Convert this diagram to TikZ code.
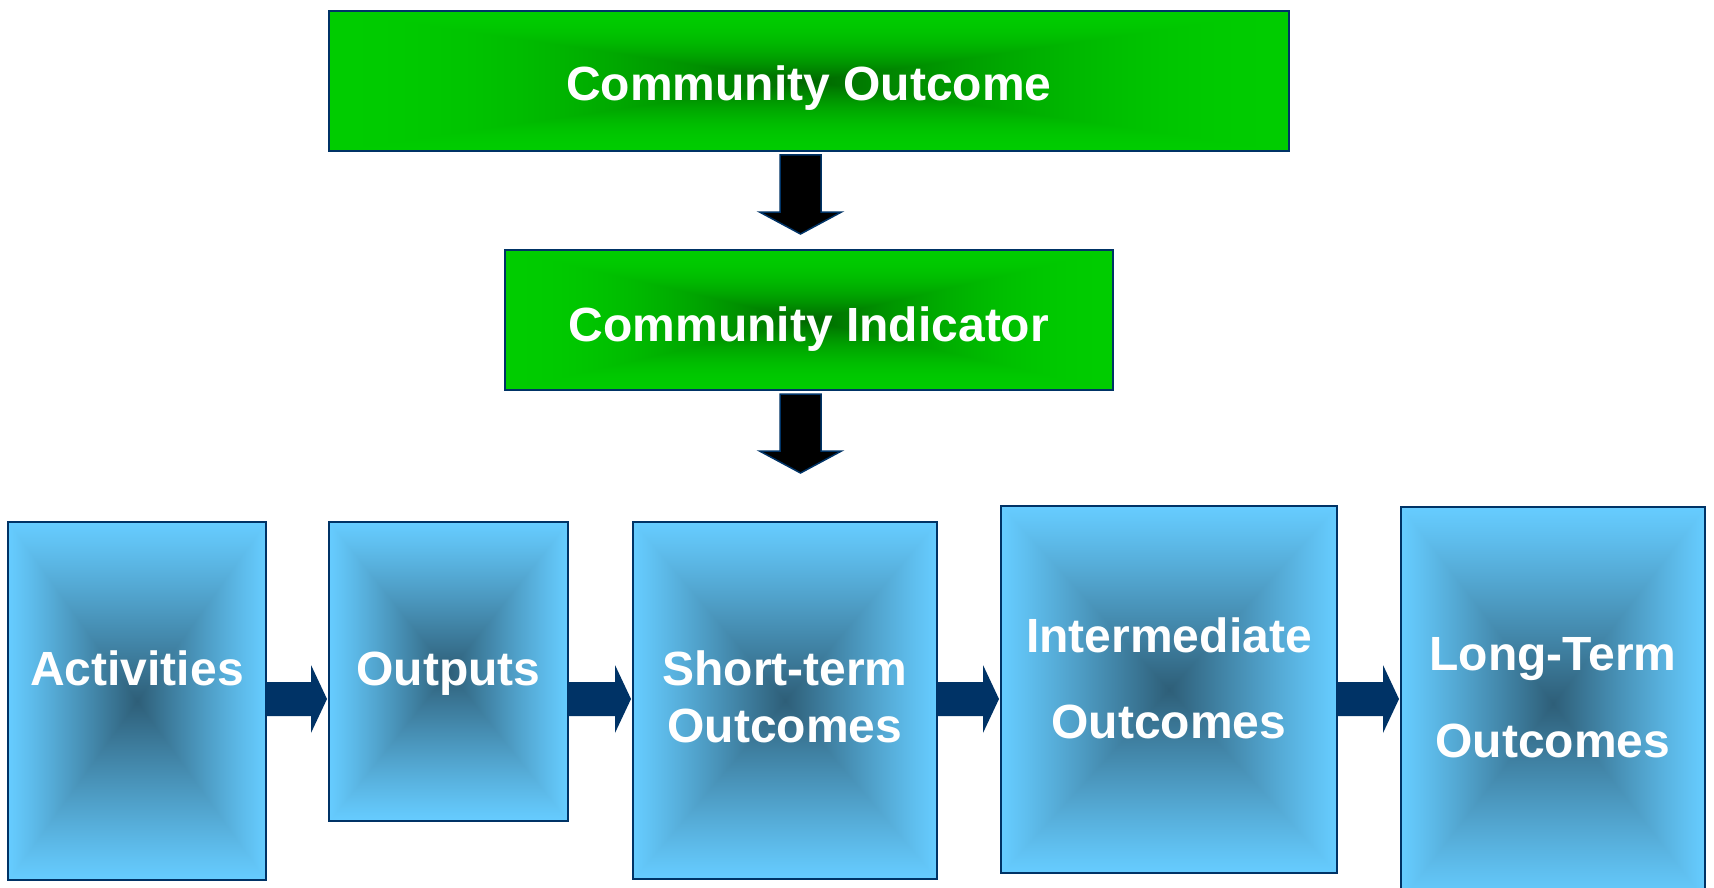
\documentclass[tikz,border=0pt]{standalone}
\usepackage{fontspec}
\setmainfont{Liberation Sans}
\usetikzlibrary{calc}

\definecolor{edgeblue}{HTML}{003366}

% box fills, dark in the middle and lighter towards the border
\pgfdeclarefunctionalshading{greenglow}{\pgfpoint{-50bp}{-50bp}}{\pgfpoint{50bp}{50bp}}{}{%
  abs exch abs 2 copy sub abs add add 2 div 25 div
  1 exch sub abs 2 exp
  -0.4 mul 0.8 add 0 exch 0
}
\pgfdeclarefunctionalshading{blueglow}{\pgfpoint{-50bp}{-50bp}}{\pgfpoint{50bp}{50bp}}{}{%
  abs exch abs 2 copy sub abs add add 2 div 25 div
  1 exch sub abs 1.1 exp
  dup -0.22 mul 0.4 add exch dup -0.43 mul 0.8 add exch -0.53 mul 1 add
}

\tikzset{
  topbox/.style={draw=edgeblue, line width=1pt, shade, shading=greenglow, inner sep=0pt},
  stagebox/.style={draw=edgeblue, line width=1pt, shade, shading=blueglow, inner sep=0pt},
  boxtext/.style={text=white, font=\fontsize{24}{28.5}\selectfont\bfseries, align=center, anchor=base}
}

% black arrow pointing down from #1 to #2, tip kept #3 above #2
\newcommand{\downblock}[3]{%
  \filldraw[fill=black, draw=edgeblue, line width=0.75pt]
    let \p1=([xshift=-4.25pt, yshift=-1.5pt]#1.south), \p2=([yshift=#3]#2.north) in
    (\x1-10.25pt,\y1) -- (\x1+10.25pt,\y1) -- (\x1+10.25pt,\y2+11pt) -- (\x1+20.5pt,\y2+11pt)
    -- (\x1,\y2) -- (\x1-20.5pt,\y2+11pt) -- (\x1-10.25pt,\y2+11pt) -- cycle;}

% flat arrow between two stages
\newcommand{\flowblock}[2]{%
  \fill[edgeblue] let \p1=(#1.east), \p2=(#2.west), \p3=(0,699) in
    (\x1,\y3+8.5pt) -- (\x2-8.5pt,\y3+8.5pt) -- (\x2-8.5pt,\y3+17pt) -- (\x2-0.5pt,\y3)
    -- (\x2-8.5pt,\y3-17pt) -- (\x2-8.5pt,\y3-8.5pt) -- (\x1,\y3-8.5pt) -- cycle;}

\begin{document}
\begin{tikzpicture}[x=0.5pt,y=-0.5pt]
	\useasboundingbox (0,0) rectangle (1714,888);
	\fill[white] (0,0) rectangle (1714,888);

	\node[topbox, minimum width=480pt, minimum height=70pt] (co) at (809,81) {};
	\node[topbox, minimum width=304pt, minimum height=70pt] (ci) at (809,320) {};

	\node[stagebox, minimum width=129pt, minimum height=179pt] (act) at (137,701) {};
	\node[stagebox, minimum width=119.5pt, minimum height=149.5pt] (outp) at (448.5,671.5) {};
	\node[stagebox, minimum width=152pt, minimum height=178.5pt] (st) at (785,700.5) {};
	\node[stagebox, minimum width=168pt, minimum height=183.5pt] (im) at (1169,689.5) {};
	\node[stagebox, minimum width=152pt, minimum height=196.5pt] (lt) at (1553,703.5) {};

	% labels sit on the baseline of their last line
	\node[boxtext] (cotext) at (809,101) {Community Outcome};
	\node[boxtext] (citext) at (809,341) {Community Indicator};
	\node[boxtext] (acttext) at (137,685) {Activities};
	\node[boxtext] (outptext) at (448.5,685) {Outputs};
	\node[boxtext] (sttext) at (785,742) {Short-term\\Outcomes};
	\node[boxtext, font=\fontsize{24}{43}\selectfont\bfseries] (imtext) at (1169,738) {Intermediate\\Outcomes};
	\node[boxtext, font=\fontsize{24}{43.5}\selectfont\bfseries] (lttext) at (1553,757) {Long-Term\\Outcomes};

	\downblock{co}{ci}{7.5pt}
	\downblock{ci}{st}{24pt}

	\flowblock{act}{outp}
	\flowblock{outp}{st}
	\flowblock{st}{im}
	\flowblock{im}{lt}
\end{tikzpicture}
\end{document}
